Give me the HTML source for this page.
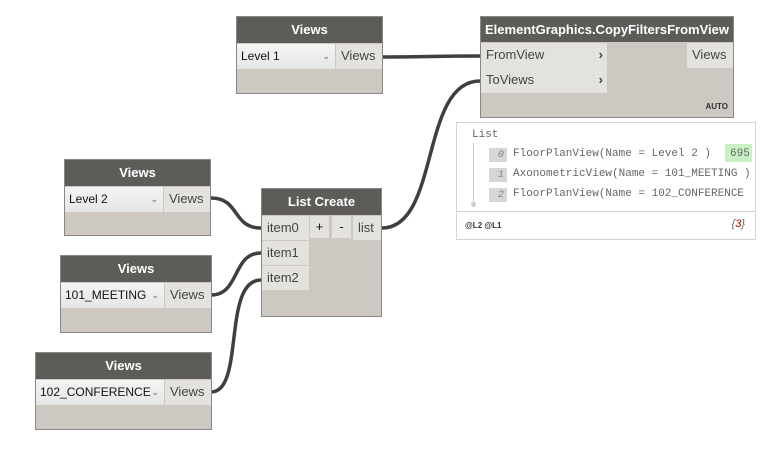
<!DOCTYPE html>
<html><head><meta charset="utf-8"><style>
body{margin:0;width:768px;height:472px;background:#fff;position:relative;overflow:hidden;font-family:"Liberation Sans",sans-serif;}
.n{position:absolute;background:#cdc9c2;border:1px solid #8a8784;box-sizing:border-box;}
.h{position:absolute;left:0;right:0;top:0;height:26px;background:#5e5c59;color:#fff;font-weight:bold;font-size:13px;text-align:center;line-height:26px;}
.c{position:absolute;background:#e4e2dd;color:#444;font-size:13px;line-height:24px;box-sizing:border-box;padding-left:5px;}
.dd{position:absolute;background:linear-gradient(#f4f4f4,#e6e6e6);color:#111;font-size:12px;line-height:24px;padding-left:4px;box-sizing:border-box;border-right:1px solid #c8c8c8;}
.dd span{position:absolute;right:5px;font-size:9px;color:#666;}
.m{position:absolute;font-family:"Liberation Mono",monospace;font-size:11px;color:#666;}
.ix{position:absolute;background:#d6d6d6;color:#888;font-style:italic;font-size:10.5px;text-align:right;padding-right:3px;box-sizing:border-box;width:18px;height:14px;line-height:14px;font-family:"Liberation Mono",monospace;}
</style></head><body>
<svg width="768" height="472" style="position:absolute;left:0;top:0">
<g fill="none" stroke="#3f3f3f" stroke-width="3.5">
<path d="M383 57 C430 57,430 56,480 56"/>
<path d="M382 228 C440 228,420 81,480 81"/>
<path d="M211 198 C240 198,232 228,261 228"/>
<path d="M211 295 C240 295,232 253,261 253"/>
<path d="M211 392 C245 392,222 280,261 280"/>
</g>
</svg>
<div class="n" style="left:236px;top:16px;width:147px;height:78px"><div class="h">Views</div>
<div class="dd" style="left:0;top:27px;width:99px;height:25px">Level 1<span>⌄</span></div>
<div class="c" style="left:99px;top:27px;width:46px;height:25px">Views</div></div>
<div class="n" style="left:64px;top:159px;width:147px;height:77px"><div class="h">Views</div>
<div class="dd" style="left:0;top:27px;width:99px;height:25px">Level 2<span>⌄</span></div>
<div class="c" style="left:99px;top:27px;width:46px;height:25px">Views</div></div>
<div class="n" style="left:60px;top:255px;width:152px;height:78px"><div class="h">Views</div>
<div class="dd" style="left:0;top:27px;width:104px;height:25px">101_MEETING<span>⌄</span></div>
<div class="c" style="left:104px;top:27px;width:46px;height:25px">Views</div></div>
<div class="n" style="left:35px;top:352px;width:177px;height:78px"><div class="h">Views</div>
<div class="dd" style="left:0;top:27px;width:129px;height:25px">102_CONFERENCE<span>⌄</span></div>
<div class="c" style="left:129px;top:27px;width:46px;height:25px">Views</div></div>
<div class="n" style="left:261px;top:188px;width:121px;height:129px"><div class="h">List Create</div>
<div class="c" style="left:0;top:27px;width:47px;height:24px">item0</div>
<div class="c" style="left:0;top:52px;width:47px;height:24px">item1</div>
<div class="c" style="left:0;top:77px;width:47px;height:24px">item2</div>
<div class="c" style="left:48px;top:27px;width:19px;height:22px;padding:0;text-align:center;line-height:22px;color:#111">+</div>
<div class="c" style="left:70px;top:27px;width:19px;height:22px;padding:0;text-align:center;line-height:22px;color:#111">-</div>
<div class="c" style="left:91px;top:27px;width:28px;height:24px">list</div></div>
<div class="n" style="left:480px;top:16px;width:254px;height:102px"><div class="h" style="height:25px;line-height:25px">ElementGraphics.CopyFiltersFromView</div>
<div class="c" style="left:0;top:26px;width:126px;height:25px">FromView<span style="position:absolute;right:4px;font-weight:bold">›</span></div>
<div class="c" style="left:0;top:51px;width:126px;height:25px">ToViews<span style="position:absolute;right:4px;font-weight:bold">›</span></div>
<div class="c" style="left:206px;top:26px;width:46px;height:25px">Views</div>
<div style="position:absolute;right:5px;bottom:6px;font-size:8px;font-weight:bold;color:#333">AUTO</div></div>
<div style="position:absolute;left:456px;top:122px;width:300px;height:118px;border:1px solid #d4d4d4;box-sizing:border-box;background:#fff">
<div class="m" style="left:15px;top:6px">List</div>
<div style="position:absolute;left:16px;top:20px;width:1px;height:60px;background:#ccc"></div>
<div style="position:absolute;left:14px;top:79px;width:5px;height:5px;border-radius:50%;background:#ccc"></div>
<div class="ix" style="left:32px;top:25px">0</div><div class="m" style="left:56px;top:25px">FloorPlanView(Name = Level 2 )</div>
<div style="position:absolute;left:268px;top:21px;width:27px;height:18px;background:#c9f0c4"></div><div class="m" style="left:273px;top:25px">695</div>
<div class="ix" style="left:32px;top:45px">1</div><div class="m" style="left:56px;top:45px">AxonometricView(Name = 101_MEETING )</div>
<div class="ix" style="left:32px;top:65px">2</div><div class="m" style="left:56px;top:65px">FloorPlanView(Name = 102_CONFERENCE</div>
<div style="position:absolute;left:0;right:0;top:88px;height:1px;background:#d4d4d4"></div>
<div style="position:absolute;left:8px;top:98px;font-size:8px;font-weight:bold;color:#333">@L2 @L1</div>
<div style="position:absolute;right:10px;top:95px;font-size:11px;font-style:italic;color:#666">{<span style="color:#a00">3</span>}</div>
</div>
</body></html>
